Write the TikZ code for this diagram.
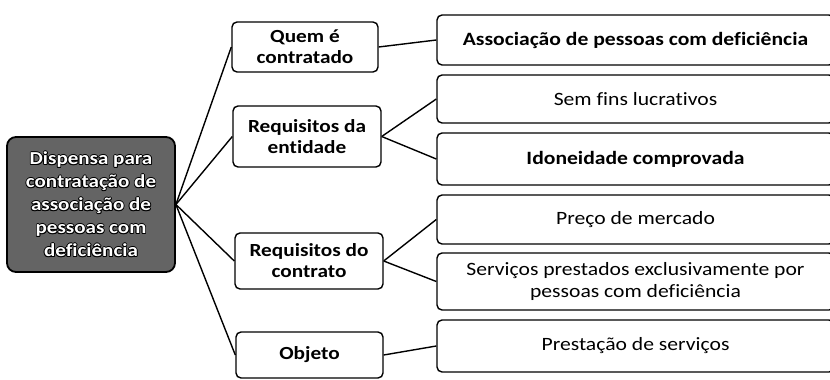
\documentclass[tikz,border=0pt]{standalone}
\usepackage{fontspec}
\setmainfont{Carlito}[FakeStretch=1.15, Ligatures=NoCommon]
\definecolor{rootfill}{RGB}{100,100,100}
\newcommand\roottext{Dispensa para\\contratação de\\associação de\\pessoas com\\deficiência}
\begin{document}
\begin{tikzpicture}[x=1pt,y=-1pt,
  midbox/.style={draw=black, line width=1.4pt, rounded corners=5pt, inner sep=0pt,
    align=center, font=\bfseries\fontsize{18.5}{21}\selectfont},
  rightbox/.style={draw=black, line width=1.4pt, rounded corners=5pt, inner sep=0pt,
    align=center, minimum width=397pt, font=\fontsize{18.8}{22}\selectfont},
  rightbold/.style={font=\bfseries\fontsize{18.8}{22}\selectfont},
  rootbox/.style={draw=black, line width=1.8pt, rounded corners=9pt, fill=rootfill,
    minimum width=168pt, minimum height=135pt},
  roottxt/.style={align=center, inner sep=0pt, font=\bfseries\fontsize{18.3}{23}\selectfont},
  link/.style={draw=black, line width=1.4pt}]
\useasboundingbox (0,0) rectangle (830,380);
\clip (0,0) rectangle (830,380);

% root
\node[rootbox] (root) at (91,204.5) {};
\foreach \dx/\dy [count=\i] in {0.9/0,-0.9/0,0/0.9,0/-0.9,0.65/0.65,-0.65/0.65,0.65/-0.65,-0.65/-0.65}
  \node[roottxt, text=black] (rooto\i) at ([shift={(\dx,\dy)}]root.center) {\roottext};
\node[roottxt, text=white] (roott) at (root.center) {\roottext};

% middle column
\node[midbox, minimum width=146pt, minimum height=50pt] (quem) at (305,47) {Quem é\\contratado};
\node[midbox, minimum width=148pt, minimum height=61pt] (reqent) at (307,136.5) {Requisitos da\\entidade};
\node[midbox, minimum width=148pt, minimum height=56pt] (reqcon) at (309,261) {Requisitos do\\contrato};
\node[midbox, minimum width=147pt, minimum height=46pt] (objeto) at (309.5,355) {Objeto};

% right column
\node[rightbox, rightbold, minimum height=50pt] (assoc) at (635.5,40) {Associação de pessoas com deficiência};
\node[rightbox, minimum height=48pt] (sem) at (635.5,99) {Sem fins lucrativos};
\node[rightbox, rightbold, minimum height=52pt] (idon) at (635.5,159) {Idoneidade comprovada};
\node[rightbox, minimum height=49pt] (preco) at (635.5,219.5) {Preço de mercado};
\node[rightbox, minimum height=57pt] (serv) at (635.5,281.5) {Serviços prestados exclusivamente por\\pessoas com deficiência};
\node[rightbox, minimum height=52pt] (prest) at (635.5,346) {Prestação de serviços};

% connectors
\draw[link] (root.east) -- (quem.west);
\draw[link] (root.east) -- (reqent.west);
\draw[link] (root.east) -- (reqcon.west);
\draw[link] (root.east) -- (objeto.west);
\draw[link] (quem.east) -- (assoc.west);
\draw[link] (reqent.east) -- (sem.west);
\draw[link] (reqent.east) -- (idon.west);
\draw[link] (reqcon.east) -- (preco.west);
\draw[link] (reqcon.east) -- (serv.west);
\draw[link] (objeto.east) -- (prest.west);
\end{tikzpicture}
\end{document}
